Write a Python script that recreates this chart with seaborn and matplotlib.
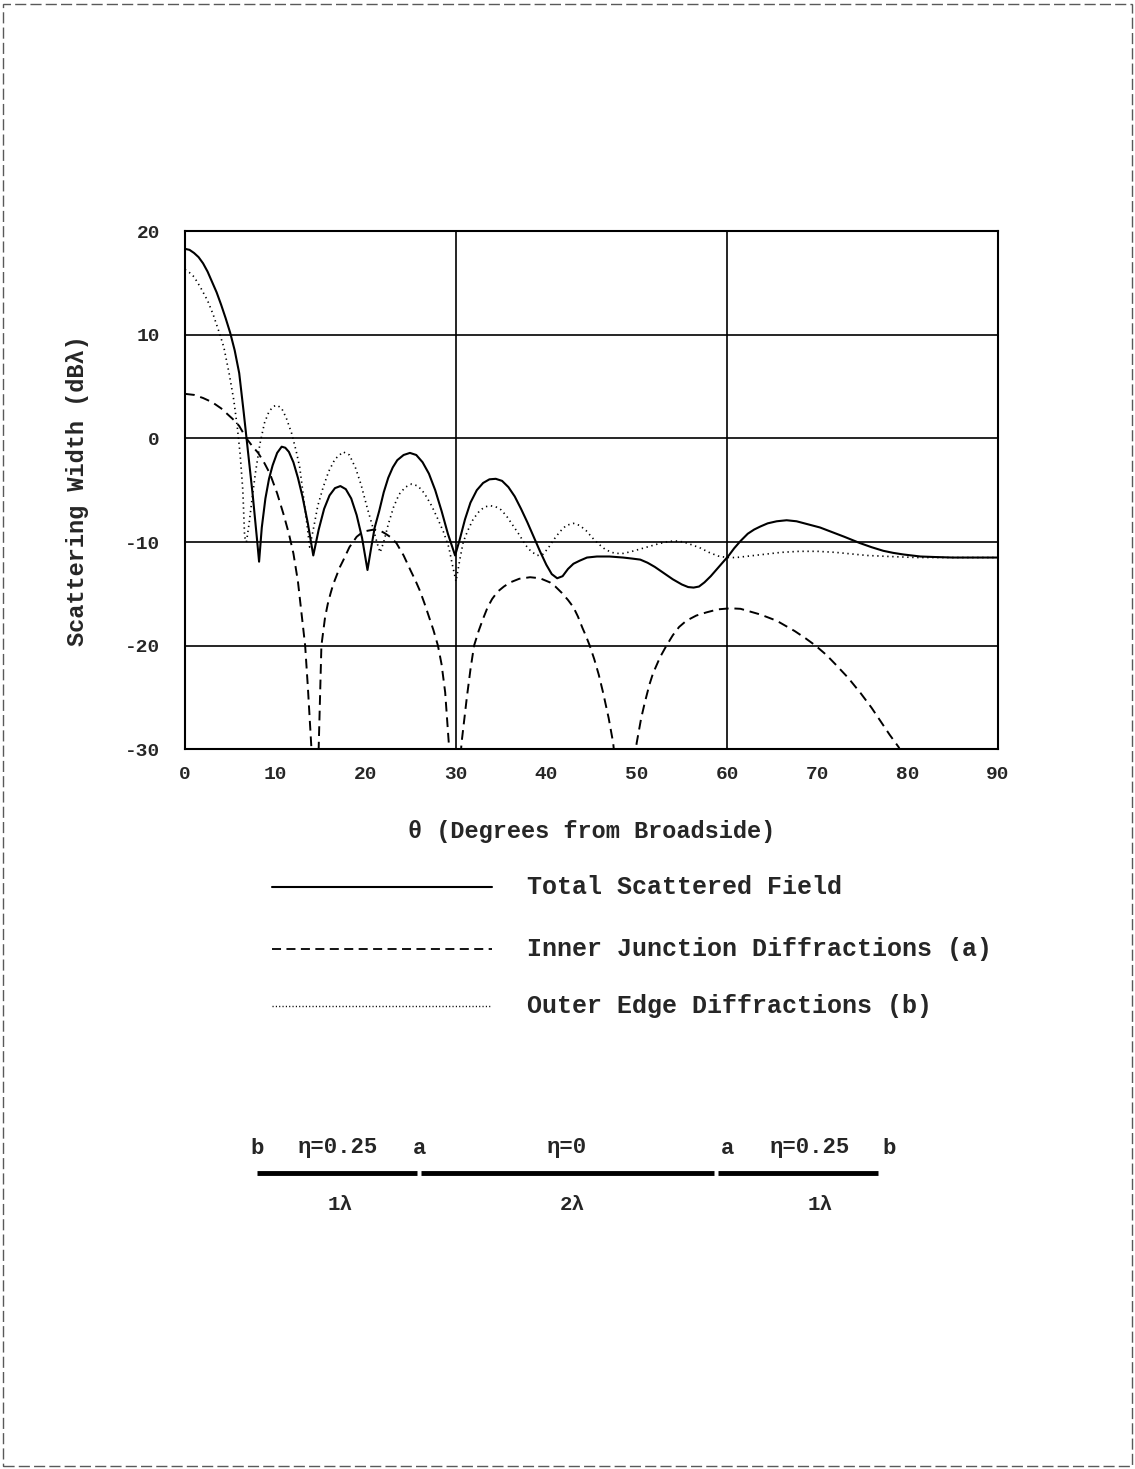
import numpy as np
import pandas as pd
import matplotlib
matplotlib.use("Agg")
import matplotlib.pyplot as plt
import seaborn as sns
from matplotlib.lines import Line2D
from matplotlib.patches import Rectangle

# valeurs (theta en degres, largeur en dB lambda)
theta_total = [0, 0.5, 1, 1.5, 2, 2.5, 3, 3.5, 4, 4.5, 5, 5.5, 6, 6.5, 7, 7.5, 8, 8.2,
               8.5, 8.9, 9.3, 9.7, 10.2, 10.7, 11.1, 11.5, 12, 12.5, 13, 13.6, 14.2,
               14.8, 15.4, 16, 16.6, 17.2, 17.8, 18.4, 19, 19.6, 20.2, 20.6, 21, 21.5,
               22, 22.5, 23, 23.5, 24.2, 24.9, 25.6, 26.3, 27, 27.7, 28.4, 29.1, 29.9,
               30.4, 31, 31.6, 32.3, 33, 33.7, 34.4, 35.1, 35.8, 36.5, 37.2, 37.9, 38.6,
               39.3, 40, 40.6, 41.2, 41.8, 42.4, 43, 43.7, 44.5, 45.6, 47, 48.5, 49.5,
               50.4, 51.2, 52, 53, 54, 55, 55.7, 56.3, 56.9, 57.5, 58.2, 59, 59.6, 60.2,
               60.8, 61.5, 62.3, 63, 63.7, 64.5, 65.5, 66.6, 67.7, 69, 70.3, 71.5, 73,
               74.7, 76, 77.3, 78.4, 79.5, 81.4, 83, 85, 90]
db_total = [18.3, 18.2, 17.9, 17.5, 16.9, 16.1, 15.1, 14.1, 12.9, 11.6, 10.2, 8.5, 6.3,
            2.5, -1.5, -5.5, -10, -11.9, -8.6, -5.8, -3.9, -2.6, -1.4, -0.8, -0.9, -1.3,
            -2.3, -3.8, -5.6, -8.2, -11.3, -8.8, -6.8, -5.5, -4.8, -4.6, -4.9, -5.8,
            -7.4, -9.6, -12.7, -10.6, -8.6, -7.0, -5.2, -3.8, -2.8, -2.1, -1.6, -1.4,
            -1.6, -2.3, -3.4, -5.0, -7.0, -9.2, -11.3, -9.8, -7.8, -6.2, -5.0, -4.3,
            -3.95, -3.9, -4.1, -4.7, -5.6, -6.8, -8.1, -9.5, -10.9, -12.2, -13.1, -13.5,
            -13.3, -12.6, -12.1, -11.8, -11.5, -11.4, -11.4, -11.5, -11.6, -11.7, -12.0,
            -12.4, -13.0, -13.6, -14.1, -14.35, -14.4, -14.3, -13.9, -13.3, -12.5, -11.9,
            -11.3, -10.6, -9.9, -9.2, -8.8, -8.5, -8.2, -8.0, -7.9, -8.0, -8.3, -8.6,
            -9.0, -9.5, -10.1, -10.5, -10.85, -11.05, -11.2, -11.4, -11.45, -11.5, -11.5]

theta_inner = [0, 1, 2, 3, 4, 5, 5.5, 6, 6.8, 7.5, 8.1, 8.8, 9.4, 10.2, 10.9, 11.5, 12,
               12.5, 12.9, 13.3, 13.6, 13.8, 14.0, 14.3, 14.6, 14.8, 15.1, 15.5, 15.8,
               16.1, 16.4, 16.8, 17.1, 17.5, 18.2, 19, 19.5, 20, 20.9, 21.6, 22.2, 22.7,
               23.4, 24.2, 25, 25.5, 26, 26.5, 27, 27.5, 28, 28.4, 28.8, 29.2, 29.9, 30.6,
               31.2, 31.6, 32, 32.5, 33, 33.5, 34, 34.6, 35.3, 36, 37, 38.2, 39.3, 40.4,
               41, 41.7, 42.4, 43, 43.5, 44, 44.4, 44.8, 45.3, 45.8, 46.3, 46.9, 47.4,
               48.6, 50, 50.5, 50.9, 51.4, 51.8, 52.6, 53.3, 54, 54.7, 55.5, 56.6, 57.7,
               59, 60.4, 61.5, 62.5, 63.7, 64.6, 65.5, 66.5, 67.5, 68.7, 69.8, 71, 72,
               73.4, 74.8, 76, 77, 78, 79, 80]
db_inner = [4.3, 4.2, 3.9, 3.5, 2.9, 2.1, 1.7, 1.2, 0, -0.8, -1.4, -2.4, -3.4, -5.3,
            -7.3, -9.2, -11.1, -13.8, -16.9, -20, -24, -27, -30, -40, -34, -29.8, -20,
            -17.3, -16.0, -15.0, -14.1, -13.2, -12.5, -11.8, -10.5, -9.5, -9.15, -8.95,
            -8.8, -8.9, -9.2, -9.5, -10.1, -11.3, -12.8, -13.7, -14.7, -15.9, -17.2,
            -18.5, -20, -21.8, -24.5, -29.4, -40, -29.5, -25, -22.3, -20, -18.6, -17.4,
            -16.3, -15.5, -14.8, -14.3, -13.9, -13.55, -13.4, -13.5, -13.9, -14.3, -14.9,
            -15.6, -16.3, -17.2, -18.3, -19.1, -20, -21.3, -22.8, -24.6, -27, -29.4, -40,
            -29.4, -27, -25.5, -23.8, -22.7, -21.1, -20, -19, -18.2, -17.6, -17.1, -16.8,
            -16.5, -16.4, -16.45, -16.7, -17.0, -17.3, -17.6, -18.1, -18.6, -19.3, -20,
            -20.9, -21.8, -23.1, -24.6, -26, -27.3, -28.6, -29.8, -31.5]

theta_outer = [0, 0.5, 1, 1.7, 2.5, 3.1, 3.8, 4.3, 4.9, 5.4, 5.8, 6.1, 6.4, 6.6, 6.8,
               7.1, 7.4, 7.8, 8.3, 8.8, 9.3, 9.8, 10.2, 10.7, 11.2, 11.8, 12.3, 12.7,
               13.1, 13.5, 13.8, 14.2, 14.7, 15.3, 15.9, 16.6, 17.5, 18.2, 18.9, 19.5,
               20.2, 20.8, 21.3, 21.6, 22, 22.5, 23.1, 23.7, 24.4, 25.1, 25.8, 26.5, 27.3,
               28, 28.6, 29.2, 29.6, 30, 30.4, 30.8, 31.3, 31.9, 32.6, 33.2, 33.8, 34.4,
               35, 35.6, 36.3, 37, 37.7, 38.3, 39, 39.6, 40.2, 40.8, 41.5, 42.2, 43, 43.7,
               44.4, 45.1, 45.8, 46.5, 47.2, 47.8, 48.5, 49.3, 50.3, 51.3, 52.5, 53.5,
               54.3, 55.2, 56.2, 57.1, 58, 59, 60, 61, 62, 64, 66, 68, 70, 72, 75.5, 78,
               81, 85, 90]
db_outer = [16.3, 16.0, 15.6, 14.6, 13.3, 12.0, 10.2, 8.8, 6.2, 3.7, 1.0, -1.5, -5,
            -9.5, -10, -8.2, -6.0, -3.3, -0.5, 1.5, 2.6, 3.1, 3.2, 2.9, 2.0, 0.5, -1.2,
            -2.8, -5.5, -8.3, -10.5, -8.8, -6.5, -4.7, -3.2, -2.0, -1.3, -1.6, -2.9,
            -4.5, -6.8, -8.6, -10.2, -11, -10, -8.3, -6.6, -5.4, -4.7, -4.4, -4.6, -5.3,
            -6.5, -7.8, -9.0, -10.5, -12.2, -13.8, -11.8, -10.0, -8.9, -7.8, -7.0, -6.6,
            -6.5, -6.6, -6.9, -7.5, -8.4, -9.3, -10.3, -10.9, -11.3, -11.2, -10.6, -9.8,
            -9.0, -8.4, -8.2, -8.4, -8.9, -9.6, -10.2, -10.7, -11.0, -11.1, -11.1,
            -10.95, -10.7, -10.45, -10.15, -9.95, -9.9, -10.0, -10.3, -10.6, -11.0,
            -11.35, -11.5, -11.5, -11.4, -11.2, -11.0, -10.9, -10.9, -11.0, -11.3,
            -11.4, -11.5, -11.5, -11.5]

x_ticks = [0, 10, 20, 30, 40, 50, 60, 70, 80, 90]
y_ticks = [-30, -20, -10, 0, 10, 20]
grid_x = [30, 60]
grid_y = [-20, -10, 0, 10]

legend_labels = ["Total Scattered Field",
                 "Inner Junction Diffractions (a)",
                 "Outer Edge Diffractions (b)"]

sns.set_style("white")
mono = ["Liberation Mono", "DejaVu Sans Mono", "DejaVu Sans"]
plt.rcParams['font.family'] = mono
plt.rcParams['font.weight'] = 'bold'

fig = plt.figure(figsize=(11.35, 14.69), dpi=100)
ax = fig.add_axes([0.163, 0.490, 0.7163, 0.3526])

for gx in grid_x:
    ax.axvline(gx, color='black', lw=1.2, zorder=1)
for gy in grid_y:
    ax.axhline(gy, color='black', lw=1.2, zorder=1)

sns.lineplot(x=theta_total, y=db_total, ax=ax, color='black', lw=1.5,
             sort=False, estimator=None, zorder=3)
sns.lineplot(x=theta_inner, y=db_inner, ax=ax, color='black', lw=1.4,
             sort=False, estimator=None, zorder=3).lines[-1].set_dashes([5, 3])
sns.lineplot(x=theta_outer, y=db_outer, ax=ax, color='black', lw=1.2,
             sort=False, estimator=None, zorder=3).lines[-1].set_dashes([0.8, 2.2])

ax.set_xlim(0, 90)
ax.set_ylim(-30, 20)
ax.set_xticks(x_ticks)
ax.set_yticks(y_ticks)
ax.set_xticklabels([str(v) for v in x_ticks], fontsize=14, fontweight='bold')
ax.set_yticklabels([str(v) for v in y_ticks], fontsize=14, fontweight='bold')
ax.tick_params(axis='x', direction='inout', length=8, width=1.2, pad=8)
ax.tick_params(axis='y', direction='inout', length=8, width=1.2, pad=14)
for s in ax.spines.values():
    s.set_color('black')
    s.set_linewidth(1.5)

ax.set_xlabel("θ (Degrees from Broadside)", fontsize=17, labelpad=27, fontweight='bold')
ax.set_ylabel("Scattering Width (dBλ)", fontsize=17, labelpad=26, fontweight='bold')

# legende manuelle
leg_y = [1 - 887 / 1469, 1 - 949 / 1469, 1 - 1006 / 1469]
leg_styles = [dict(lw=1.5), dict(lw=1.3, dashes=[5, 3]), dict(lw=1.0, dashes=[0.8, 1.6])]
for yy, lab, st in zip(leg_y, legend_labels, leg_styles):
    fig.add_artist(Line2D([272 / 1135, 492 / 1135], [yy, yy], color='black', **st))
    fig.text(527 / 1135, yy, lab, fontsize=18, va='center', ha='left', fontweight='bold')

# schema de la structure
ys = 1 - 1148 / 1469
for xx, t in [(257, "b"), (338, "η=0.25"), (420, "a"), (567, "η=0"),
              (728, "a"), (810, "η=0.25"), (889, "b")]:
    fig.text(xx / 1135, ys, t, fontsize=16, ha='center', va='center', fontweight='bold')
yl = 1 - 1173 / 1469
for x0, x1 in [(257, 417), (421, 714), (718, 878)]:
    fig.add_artist(Line2D([x0 / 1135, x1 / 1135], [yl, yl], color='black', lw=3.5,
                          solid_capstyle='butt'))
yb = 1 - 1205 / 1469
for xx, t in [(340, "1λ"), (572, "2λ"), (820, "1λ")]:
    fig.text(xx / 1135, yb, t, fontsize=15, ha='center', va='center', fontweight='bold')

fig.add_artist(Rectangle((0.003, 0.002), 0.994, 0.995, transform=fig.transFigure,
                         fill=False, ec='0.35', lw=1.0, ls=(0, (8, 3))))

fig.savefig("out.png", dpi=100)
